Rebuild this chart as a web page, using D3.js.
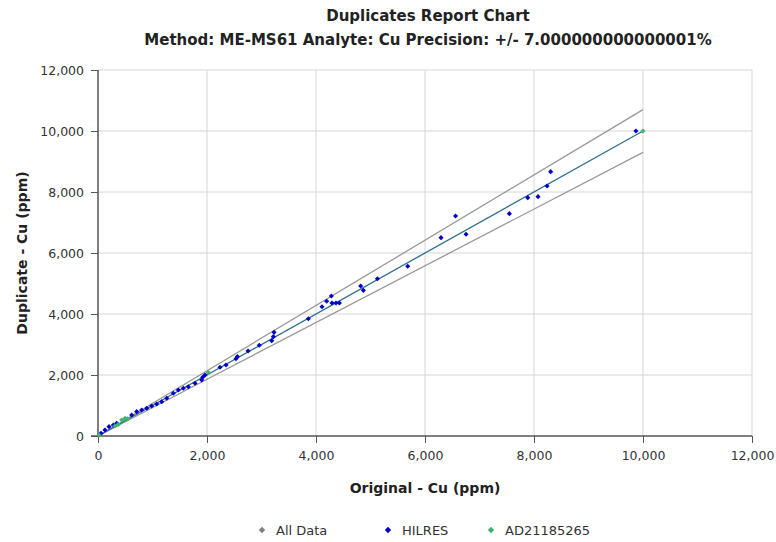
<!DOCTYPE html>
<html>
<head>
<meta charset="utf-8">
<script src="https://cdn.jsdelivr.net/npm/d3@7"></script>
<style>
  body { margin: 0; background: #fff; }
  svg { display: block; font-family: "DejaVu Sans", Verdana, sans-serif; }
</style>
</head>
<body>
<script>
var titleLines = ["Duplicates Report Chart", "Method: ME-MS61 Analyte: Cu Precision: +/- 7.000000000000001%"];
var xTicks = [0, 2000, 4000, 6000, 8000, 10000, 12000];
var yTicks = [0, 2000, 4000, 6000, 8000, 10000, 12000];
var precision = 0.07;
var lineEnd = 10000;

// HILRES duplicates (original, duplicate)
var hilresOriginal = [55, 128, 202, 282, 343, 618, 710, 802, 894, 985, 1077, 1169, 1261, 1382, 1474, 1566, 1658, 1780, 1903, 1921, 1963,
  2239, 2349, 2532, 2557, 2753, 2960, 3187, 3218, 3230, 3860, 4110, 4196, 4282, 4294, 4367, 4429, 4820, 4869, 5126, 5683,
  6294, 6560, 6753, 7548, 7885, 8074, 8240, 8306, 9870];
var hilresDuplicate = [87, 197, 306, 361, 416, 689, 798, 853, 908, 984, 1049, 1125, 1236, 1400, 1508, 1564, 1617, 1728, 1836, 1924, 2000,
  2252, 2328, 2535, 2601, 2787, 2973, 3126, 3257, 3399, 3846, 4240, 4417, 4591, 4361, 4361, 4361, 4919, 4776, 5158, 5564,
  6503, 7213, 6613, 7290, 7814, 7847, 8198, 8667, 10000];

// AD21185265 standard
var stdOriginal = [20, 310, 370, 435, 495, 540, 2024, 10000];
var stdDuplicate = [30, 330, 380, 525, 580, 560, 2080, 10000];

var legendNames = ["All Data", "HILRES", "AD21185265"];
var legendColors = ["#808080", "#0000cc", "#3cb371"];

var svg = d3.select("body").append("svg")
  .attr("width", 776)
  .attr("height", 542);

var margin = { left: 98, right: 24, top: 70, bottom: 106 };
var width = 776 - margin.left - margin.right;
var height = 542 - margin.top - margin.bottom;

var x = d3.scaleLinear().domain([0, 12000]).range([margin.left, margin.left + width]);
var y = d3.scaleLinear().domain([0, 12000]).range([margin.top + height, margin.top]);
var fmt = d3.format(",");

// titles
svg.selectAll(".title")
  .data(titleLines)
  .enter()
  .append("text")
  .attr("x", 428)
  .attr("y", function(d, i) { return 21 + i * 24; })
  .attr("text-anchor", "middle")
  .attr("font-size", "15px")
  .attr("font-weight", "bold")
  .attr("fill", "#222")
  .text(function(d) { return d; });

// grid
svg.append("g")
  .selectAll("line")
  .data(xTicks.slice(1))
  .enter()
  .append("line")
  .attr("x1", function(d) { return x(d); })
  .attr("x2", function(d) { return x(d); })
  .attr("y1", y(0))
  .attr("y2", y(12000))
  .attr("stroke", "#d6d6d6");

svg.append("g")
  .selectAll("line")
  .data(yTicks.slice(1))
  .enter()
  .append("line")
  .attr("x1", x(0))
  .attr("x2", x(12000))
  .attr("y1", function(d) { return y(d); })
  .attr("y2", function(d) { return y(d); })
  .attr("stroke", "#d6d6d6");

// axes
var xAxis = svg.append("g")
  .attr("transform", "translate(0," + y(0) + ")")
  .call(d3.axisBottom(x).tickValues(xTicks).tickFormat(fmt).tickSize(7).tickPadding(8));
var yAxis = svg.append("g")
  .attr("transform", "translate(" + x(0) + ",0)")
  .call(d3.axisLeft(y).tickValues(yTicks).tickFormat(fmt).tickSize(7).tickPadding(7));

[xAxis, yAxis].forEach(function(a) {
  a.select(".domain").attr("stroke", "#555").attr("stroke-width", 1.5);
  a.selectAll(".tick line").attr("stroke", "#555");
  a.selectAll("text").attr("font-size", "12.5px").attr("fill", "#333")
    .attr("font-family", "\"DejaVu Sans\", Verdana, sans-serif");
});
xAxis.select(".domain").attr("d", "M" + (x(0) - 7) + ",0H" + x(12000));
yAxis.select(".domain").attr("d", "M0," + y(0) + "V" + y(12000));

// axis titles
svg.append("text")
  .attr("x", 425)
  .attr("y", 493)
  .attr("text-anchor", "middle")
  .attr("font-size", "14px")
  .attr("font-weight", "bold")
  .attr("fill", "#222")
  .text("Original - Cu (ppm)");

svg.append("text")
  .attr("transform", "translate(27," + y(6000) + ") rotate(-90)")
  .attr("text-anchor", "middle")
  .attr("font-size", "14px")
  .attr("font-weight", "bold")
  .attr("fill", "#222")
  .text("Duplicate - Cu (ppm)");

// precision lines
var bounds = [1 + precision, 1 - precision];
svg.append("g")
  .selectAll("line")
  .data(bounds)
  .enter()
  .append("line")
  .attr("x1", x(0))
  .attr("y1", y(0))
  .attr("x2", x(lineEnd))
  .attr("y2", function(d) { return y(lineEnd * d); })
  .attr("stroke", "#999")
  .attr("stroke-width", 1.3);

svg.append("line")
  .attr("x1", x(0))
  .attr("y1", y(0))
  .attr("x2", x(lineEnd))
  .attr("y2", y(lineEnd))
  .attr("stroke", "#2f6f8f")
  .attr("stroke-width", 1.3);

// square diamonds (square rotated 45deg)
var diamond = d3.symbol().type(d3.symbolSquare).size(13);

svg.append("g")
  .selectAll("path")
  .data(d3.range(hilresOriginal.length))
  .enter()
  .append("path")
  .attr("d", diamond)
  .attr("transform", function(i) { return "translate(" + x(hilresOriginal[i]) + "," + y(hilresDuplicate[i]) + ") rotate(45)"; })
  .attr("fill", legendColors[1]);

svg.append("g")
  .selectAll("path")
  .data(d3.range(stdOriginal.length))
  .enter()
  .append("path")
  .attr("d", diamond)
  .attr("transform", function(i) { return "translate(" + x(stdOriginal[i]) + "," + y(stdDuplicate[i]) + ") rotate(45)"; })
  .attr("fill", legendColors[2]);

// legend
var legendX = [262, 388, 491];
var legend = svg.append("g")
  .selectAll("g")
  .data(legendNames)
  .enter()
  .append("g")
  .attr("transform", function(d, i) { return "translate(" + legendX[i] + ",530)"; });

legend.append("path")
  .attr("d", d3.symbol().type(d3.symbolSquare).size(20))
  .attr("transform", "rotate(45)")
  .attr("fill", function(d, i) { return legendColors[i]; });

legend.append("text")
  .attr("x", 14)
  .attr("y", 5)
  .attr("font-size", "13px")
  .attr("fill", "#333")
  .text(function(d) { return d; });
</script>
</body>
</html>
